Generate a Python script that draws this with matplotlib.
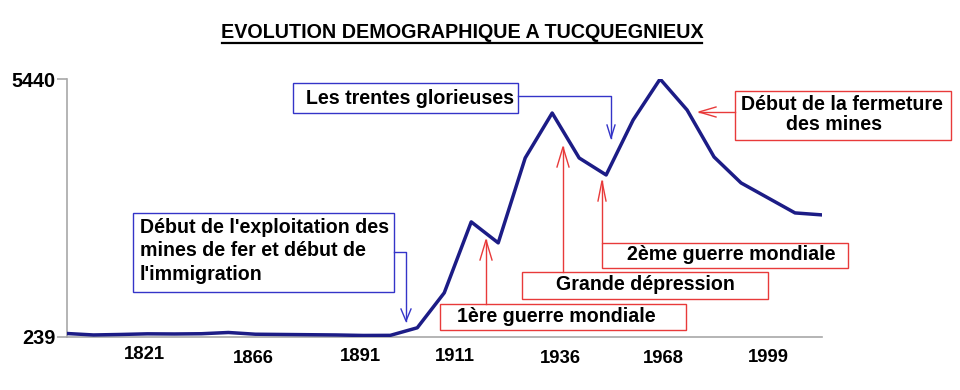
import matplotlib
matplotlib.use("Agg")
import matplotlib.pyplot as plt
from matplotlib.lines import Line2D
from matplotlib.patches import Rectangle
from matplotlib.transforms import ScaledTranslation
import numpy as np

# ---- data ----
years = [1793, 1800, 1806, 1821, 1831, 1841, 1851, 1866, 1872, 1881, 1886, 1891,
         1896, 1901, 1906, 1911, 1921, 1926, 1931, 1936, 1946, 1954, 1962, 1968,
         1975, 1982, 1990, 1999, 2006]
population = [300, 270, 280, 293, 290, 295, 320, 285, 280, 275, 270, 260,
              262, 415, 1121, 2554, 2130, 3845, 4753, 3845, 3502, 4612, 5440, 4814,
              3865, 3341, 3038, 2735, 2695]
tick_years = ["1821", "1866", "1891", "1911", "1936", "1968", "1999"]
y_ticks = [239, 5440]
title = "EVOLUTION DEMOGRAPHIQUE A TUCQUEGNIEUX"

W, H = 960, 390
fig = plt.figure(figsize=(W / 100, H / 100), dpi=100)
plt.rcParams['font.family'] = ['Liberation Sans', 'DejaVu Sans']


def fx(px):
    return px / W


def fy(py):
    return 1 - py / H


ax_left, ax_right, ax_top, ax_bottom = 66.5, 822, 79, 336.5
ax = fig.add_axes([fx(ax_left), fy(ax_bottom), fx(ax_right - ax_left), (ax_bottom - ax_top) / H])

x = np.arange(len(years))
ax.plot(x, population, color='#1c1c86', lw=2.5, solid_joinstyle='round', zorder=3)
ax.set_xlim(0, len(years) - 1)
ax.set_ylim(y_ticks[0], y_ticks[1])

for s in ['top', 'right']:
    ax.spines[s].set_visible(False)
for s in ['left', 'bottom']:
    ax.spines[s].set_color('#a8a8a8')
    ax.spines[s].set_linewidth(1.2)

ax.set_yticks(y_ticks)
ax.set_yticklabels([str(v) for v in y_ticks], fontsize=14.3, fontweight='bold')
ax.tick_params(axis='y', length=7, color='#a8a8a8', width=1.2, pad=1)

tick_idx = [years.index(int(t)) for t in tick_years]
ax.set_xticks(tick_idx)
ax.set_xticklabels(tick_years, fontsize=13.3, fontweight='bold')
ax.tick_params(axis='x', length=0, pad=8)

# label placement tweaks (pixels) to mimic the original staggered layout
label_shift = [(-3, 1.5), (-2, -2.5), (-3, 0), (-16, -0.5), (-19, -2), (-24, -2), (-27, -1)]
for lab, (dx, dy) in zip(ax.get_xticklabels(), label_shift):
    lab.set_transform(lab.get_transform() + ScaledTranslation(dx / 100, dy / 100, fig.dpi_scale_trans))

# ---- title with underline ----
fig.text(fx(462), fy(32), title, ha='center', va='center', fontsize=14.2,
         fontweight='bold')
fig.add_artist(Line2D([fx(222), fx(702)], [fy(42.5), fy(42.5)], color='black', lw=1.6))

BLUE = '#3434c8'
RED = '#e83a3a'


def box(x0, y0, x1, y1, color):
    fig.add_artist(Rectangle((fx(x0), fy(y1)), fx(x1 - x0), (y1 - y0) / H,
                             fill=False, edgecolor=color, lw=1.0))


def poly(pts, color):
    fig.add_artist(Line2D([fx(p[0]) for p in pts], [fy(p[1]) for p in pts],
                          color=color, lw=1.0))


def head(tip, direction, length, half, color):
    tx, ty = tip
    dx, dy = direction
    nx, ny = -dy, dx
    bx, by = tx - dx * length, ty - dy * length
    poly([(bx + nx * half, by + ny * half), (tx, ty), (bx - nx * half, by - ny * half)], color)


def label(px, py, s, ha='left', color='black', size=14.1):
    fig.text(fx(px), fy(py), s, ha=ha, va='center', fontsize=size,
             fontweight='bold', color=color)


# Les trentes glorieuses
box(293, 83, 518, 113, BLUE)
label(306, 98, "Les trentes glorieuses")
poly([(518, 96), (611, 96), (611, 138)], BLUE)
head((611, 138), (0, 1), 13, 4, BLUE)

# Début de l'exploitation
box(133, 213, 394, 292, BLUE)
label(140, 227, "Début de l'exploitation des")
label(140, 251, "mines de fer et début de")
label(140, 275, "l'immigration")
poly([(394, 252), (406, 252), (406, 321)], BLUE)
head((406, 321), (0, 1), 12, 5, BLUE)

# Début de la fermeture des mines
box(735, 91, 951, 140, RED)
label(842, 105, "Début de la fermeture", ha='center')
label(834, 124, "des mines", ha='center')
poly([(735, 112), (699, 112)], RED)
head((699, 112), (-1, 0), 17, 5, RED)

# 2ème guerre mondiale
box(602, 243, 848, 268, RED)
label(731, 255, "2ème guerre mondiale", ha='center')
poly([(602, 243), (602, 181)], RED)
head((602, 181), (0, -1), 20, 4, RED)

# Grande dépression
box(522, 272, 768, 299, RED)
label(645, 285, "Grande dépression", ha='center')
poly([(563, 272), (563, 147)], RED)
head((563, 147), (0, -1), 20, 6, RED)

# 1ère guerre mondiale
box(440, 304, 686, 330, RED)
label(556, 317, "1ère guerre mondiale", ha='center')
poly([(486, 304), (486, 240)], RED)
head((486, 240), (0, -1), 20, 6, RED)

fig.savefig("out.png", dpi=100, facecolor='white')
